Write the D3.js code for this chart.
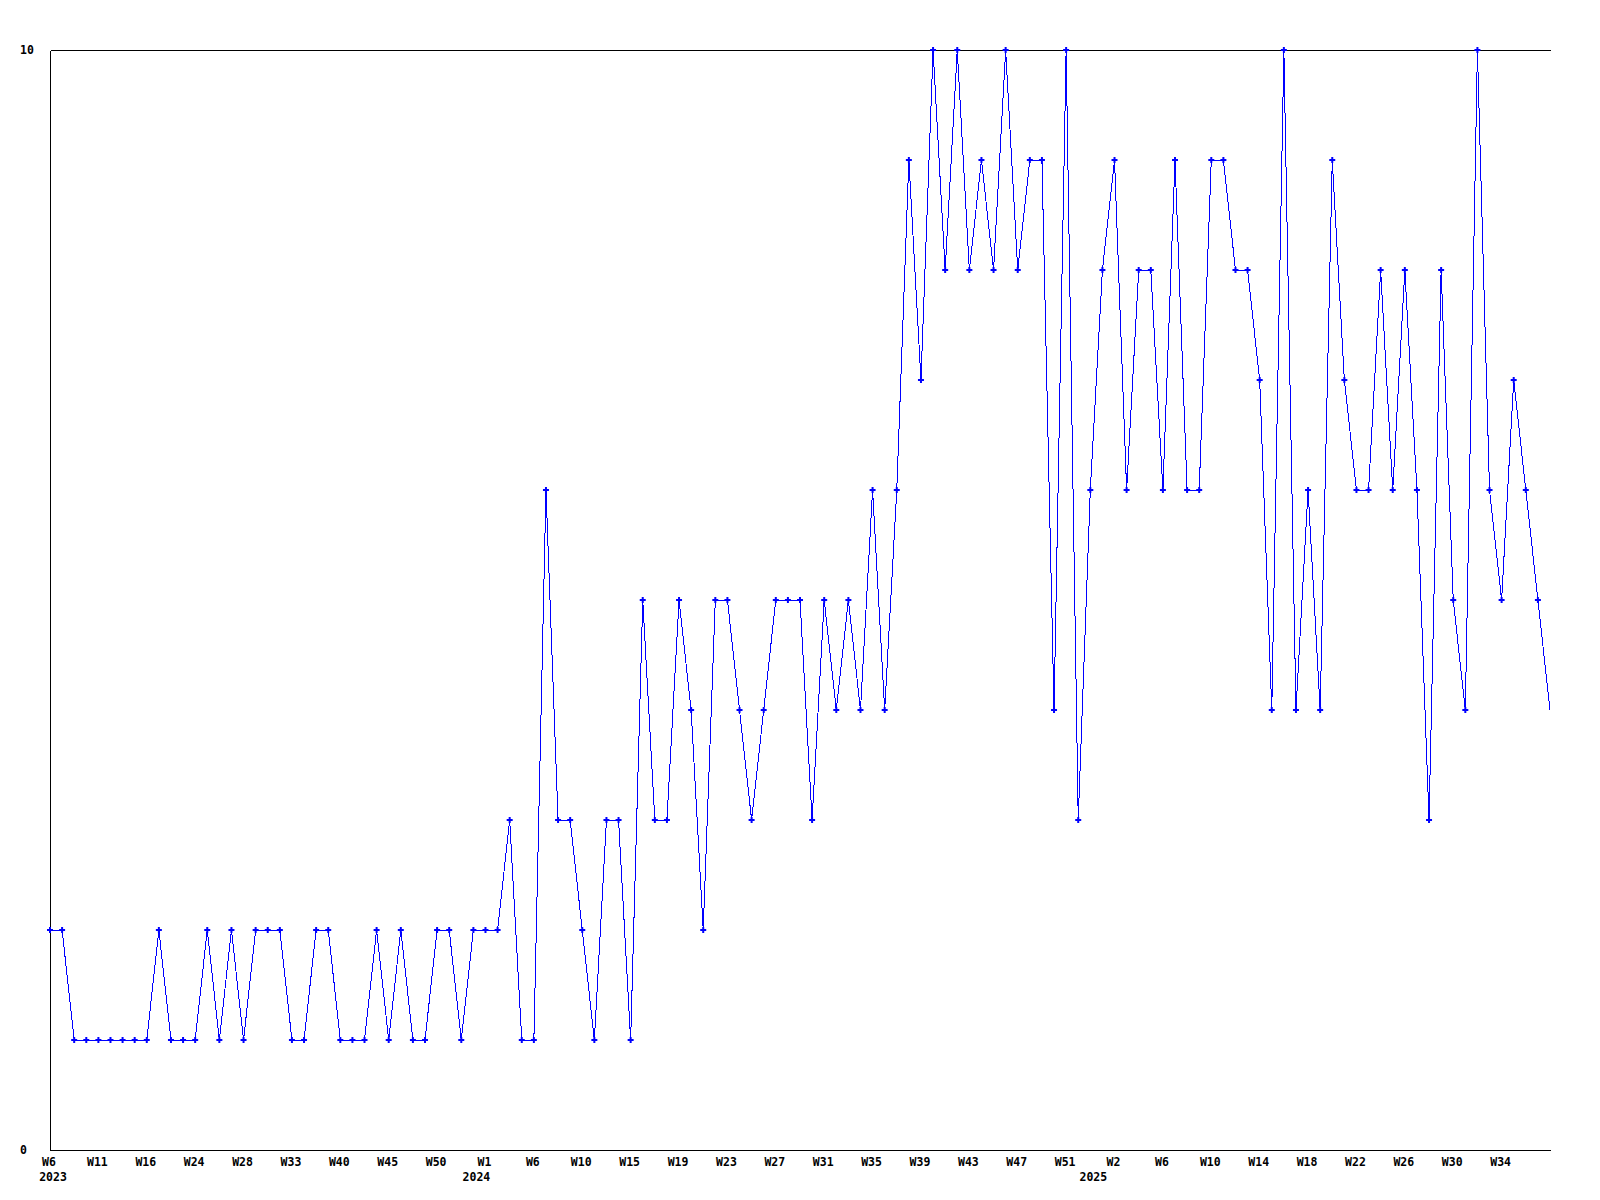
<!DOCTYPE html>
<html>
<head>
<meta charset="utf-8">
<script src="https://cdn.jsdelivr.net/npm/d3@7"></script>
<style>
  body { margin: 0; background: #fff; }
  svg { display: block; }
</style>
</head>
<body>
<svg id="chart" width="1600" height="1200"></svg>
<script>
// Weekly values, one per point (2023 W6 .. 2025 W36)
const values = [
    2, 2, 1, 1, 1, 1, 1, 1, 1, 2, 1, 1, 1, 2, 1, 2, 1, 2, 2, 2,
    1, 1, 2, 2, 1, 1, 1, 2, 1, 2, 1, 1, 2, 2, 1, 2, 2, 2, 3, 1,
    1, 6, 3, 3, 2, 1, 3, 3, 1, 5, 3, 3, 5, 4, 2, 5, 5, 4, 3, 4,
    5, 5, 5, 3, 5, 4, 5, 4, 6, 4, 6, 9, 7, 10, 8, 10, 8, 9, 8, 10,
    8, 9, 9, 4, 10, 3, 6, 8, 9, 6, 8, 8, 6, 9, 6, 6, 9, 9, 8, 8,
    7, 4, 10, 4, 6, 4, 9, 7, 6, 6, 8, 6, 8, 6, 3, 8, 5, 4, 10, 6,
    5, 7, 6, 5, 4
];

// Week label on every 4th point
const weekLabels = [
    'W6', 'W11', 'W16', 'W24', 'W28', 'W33', 'W40', 'W45', 'W50', 'W1',
    'W6', 'W10', 'W15', 'W19', 'W23', 'W27', 'W31', 'W35', 'W39', 'W43',
    'W47', 'W51', 'W2', 'W6', 'W10', 'W14', 'W18', 'W22', 'W26', 'W30', 'W34'
];
const weekEvery = 4;

// Year labels sit under the first point of each year
const yearNames = ['2023', '2024', '2025'];
const yearIndex = [0, 35, 86];

const yTicks = [0, 10];

const svg = d3.select('#chart');
const font = 'DejaVu Sans Mono, Liberation Mono, monospace';

// Scales
const x = d3.scaleLinear().domain([0, values.length - 1]).range([50, 1550]);
const y = d3.scaleLinear().domain([0, 10]).range([1150, 50]);

// Bottom axis with week labels
const xAxis = svg.append('g')
    .attr('transform', 'translate(0, 1150)')
    .call(d3.axisBottom(x)
        .tickValues(d3.range(0, values.length, weekEvery))
        .tickFormat((d, i) => weekLabels[i])
        .tickSize(0)
        .tickSizeOuter(0)
        .tickPadding(8));

// Top border line
const topAxis = svg.append('g')
    .attr('transform', 'translate(0, 50)')
    .call(d3.axisTop(x).tickValues([]).tickSizeOuter(0));

// Left axis, labels start at x = 20
const yAxis = svg.append('g')
    .attr('transform', 'translate(50, 0)')
    .call(d3.axisLeft(y).tickValues(yTicks).tickSize(0).tickSizeOuter(0));

[xAxis, topAxis, yAxis].forEach(g => {
    g.attr('font-family', font).attr('font-size', 11.5).attr('font-weight', 'bold');
    g.select('.domain').attr('stroke', '#000').attr('shape-rendering', 'crispEdges');
    g.selectAll('text').attr('fill', '#000');
});
xAxis.selectAll('text').attr('x', -1.5);
yAxis.selectAll('text').attr('x', -30).attr('text-anchor', 'start');

// Year labels under the week row
svg.append('g')
    .selectAll('text')
    .data(yearNames)
    .enter()
    .append('text')
    .attr('x', (d, i) => x(yearIndex[i]) + 3)
    .attr('y', 1181)
    .attr('text-anchor', 'middle')
    .attr('font-family', font)
    .attr('font-size', 11.5)
    .attr('font-weight', 'bold')
    .attr('fill', '#000')
    .text(d => d);

// Series line
const line = d3.line()
    .x((d, i) => x(i))
    .y(d => y(d));

svg.append('path')
    .datum(values)
    .attr('fill', 'none')
    .attr('stroke', '#0000ff')
    .attr('stroke-width', 1)
    .attr('shape-rendering', 'crispEdges')
    .attr('d', line);

// Point markers (none on the last point, as in the source)
const marker = d3.symbol().type(d3.symbolCross).size(20);
svg.append('g')
    .selectAll('path')
    .data(values.slice(0, -1))
    .enter()
    .append('path')
    .attr('transform', (d, i) => `translate(${x(i)}, ${y(d)})`)
    .attr('fill', '#0000ff')
    .attr('d', marker);
</script>
</body>
</html>
